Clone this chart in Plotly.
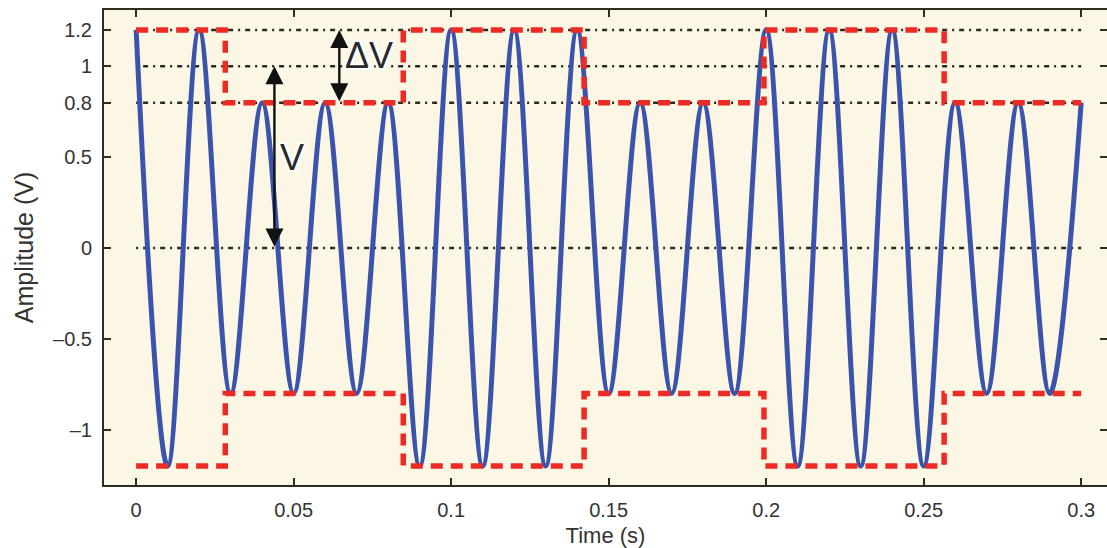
import plotly.graph_objects as go

# ---- data ----
# carrier peaks / troughs (every half period, 0.01 s)
wave_t = [0.00, 0.01, 0.02, 0.03, 0.04, 0.05, 0.06, 0.07, 0.08, 0.09,
          0.10, 0.11, 0.12, 0.13, 0.14, 0.15, 0.16, 0.17, 0.18, 0.19,
          0.20, 0.21, 0.22, 0.23, 0.24, 0.25, 0.26, 0.27, 0.28, 0.29, 0.30]
wave_v = [1.2, -1.2, 1.2, -0.8, 0.8, -0.8, 0.8, -0.8, 0.8, -1.2,
          1.2, -1.2, 1.2, -1.2, 1.2, -0.8, 0.8, -0.8, 0.8, -0.8,
          1.2, -1.2, 1.2, -1.2, 1.2, -1.2, 0.8, -0.8, 0.8, -0.8, 0.8]

# envelope steps (time of change, level)
env_t = [0.0, 0.0283, 0.0848, 0.1422, 0.1993, 0.2565, 0.30]
env_upper = [1.2, 0.8, 1.2, 0.8, 1.2, 0.8, 0.8]
env_lower = [-1.2, -0.8, -1.2, -0.8, -1.2, -0.8, -0.8]

grid_levels = [1.2, 1.0, 0.8, 0.0]
grid_span = [0.0, 0.30]

y_ticks = [-1, -0.5, 0, 0.5, 0.8, 1, 1.2]
y_ticktext = ["\u20131", "\u20130.5", "0", "0.5", "0.8", "1", "1.2"]
x_ticks = [0, 0.05, 0.1, 0.15, 0.2, 0.25, 0.3]
x_ticktext = ["0", "0.05", "0.1", "0.15", "0.2", "0.25", "0.3"]

# annotation arrows: (x, y_from, y_to)
arrow_V = (0.0439, 0.0, 1.0)
arrow_dV = (0.0645, 0.8, 1.2)

FONT = "Liberation Sans, Arial, sans-serif"
AXIS_COL = "#2e2e1e"

fig = go.Figure()

# dotted grid lines (only over the data span)
for lv in grid_levels:
    fig.add_trace(go.Scatter(
        x=grid_span, y=[lv, lv], mode="lines",
        line=dict(color="#2a2a22", width=2.5, dash="2px,5px,5px,5px"),
        hoverinfo="skip", showlegend=False))

fig.add_trace(go.Scatter(
    x=wave_t, y=wave_v, mode="lines",
    line=dict(color="#3a54ad", width=5, shape="spline", smoothing=1),
    showlegend=False))

for env in (env_upper, env_lower):
    fig.add_trace(go.Scatter(
        x=env_t, y=env, mode="lines",
        line=dict(color="#ee2a24", width=5.5, dash="12px,8px", shape="hv"),
        showlegend=False))

for (ax_x, y0, y1) in (arrow_V, arrow_dV):
    fig.add_annotation(
        x=ax_x, y=y1, ax=ax_x, ay=y0, xref="x", yref="y", axref="x", ayref="y",
        text="", showarrow=True, arrowhead=2, arrowside="end+start",
        arrowsize=1.5, arrowwidth=2.4, arrowcolor="#111111", standoff=0, startstandoff=0)

halo = ("white 2px 0px 0px, white -2px 0px 0px, white 0px 2px 0px, white 0px -2px 0px, "
        "white 2px 2px 0px, white -2px -2px 0px, white 2px -2px 0px, white -2px 2px 0px")
fig.add_annotation(x=0.0495, y=0.5, xref="x", yref="y", text="V", showarrow=False,
                   font=dict(family=FONT, size=36, color="#2a2a2a", shadow=halo))
fig.add_annotation(x=0.0740, y=1.06, xref="x", yref="y", text="\u0394V", showarrow=False,
                   font=dict(family=FONT, size=36, color="#2a2a2a", shadow=halo))

fig.update_layout(
    width=1107, height=548,
    margin=dict(l=104, r=0, t=10, b=63),
    paper_bgcolor="white", plot_bgcolor="#fbf7e4",
    font=dict(family=FONT, size=20, color="#333333"),
    showlegend=False,
)
fig.update_xaxes(
    range=[-0.0102, 0.3082], tickvals=x_ticks, ticktext=x_ticktext, automargin=False,
    showgrid=False, zeroline=False, showline=True, linecolor=AXIS_COL, linewidth=2,
    ticks="inside", ticklen=7, tickwidth=2, tickcolor=AXIS_COL, mirror="ticks",
    ticklabelstandoff=6,
    title=dict(text="Time (s)", font=dict(size=22), standoff=8),
)
fig.update_yaxes(
    range=[-1.304, 1.31], tickvals=y_ticks, ticktext=y_ticktext, automargin=False,
    showgrid=False, zeroline=False, showline=True, linecolor=AXIS_COL, linewidth=2,
    ticks="inside", ticklen=7, tickwidth=2, tickcolor=AXIS_COL, mirror="ticks",
    ticklabelstandoff=6,
    title=dict(text="Amplitude (V)", font=dict(size=25), standoff=12),
)

fig.write_html("out.html", config={"displayModeBar": False},
               post_script="document.body.style.margin='0';document.body.style.overflow='hidden';")
